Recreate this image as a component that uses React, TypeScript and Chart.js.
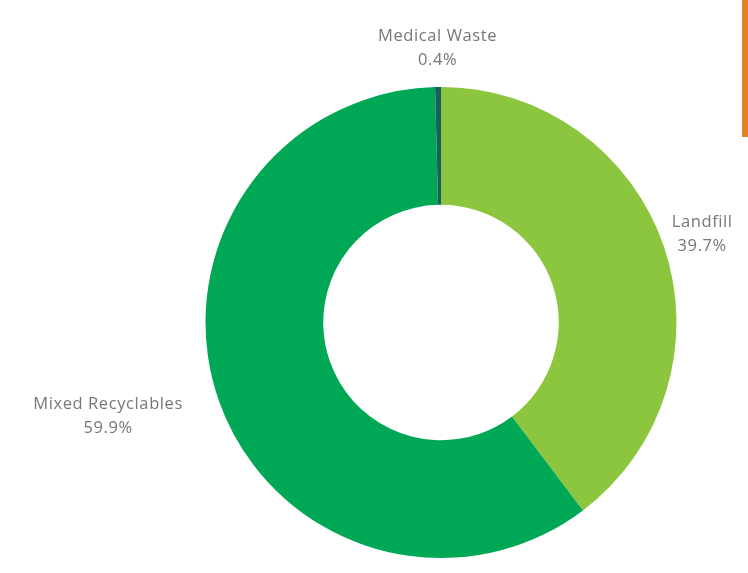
import React, { useEffect, useRef } from "react";
import { Chart, registerables } from "chart.js";

Chart.register(...registerables);

const categories = ["Landfill", "Mixed Recyclables", "Medical Waste"];
const values = [39.7, 59.9, 0.4];
const colors = ["#8cc63e", "#00a855", "#16605e"];

const labelPlugin = {
  id: "outerLabels",
  afterDatasetsDraw(chart: any) {
    const { ctx } = chart;
    const meta = chart.getDatasetMeta(0);
    const ds = chart.data.datasets[0];
    ctx.save();
    ctx.font = "16.5px 'Open Sans'";
    (ctx as any).letterSpacing = "0.6px";
    ctx.fillStyle = "#767676";
    ctx.textBaseline = "middle";
    ctx.textAlign = "center";
    meta.data.forEach((arc: any, i: number) => {
      const { x, y, startAngle, endAngle, outerRadius } = arc.getProps(
        ["x", "y", "startAngle", "endAngle", "outerRadius"],
        true
      );
      const mid = (startAngle + endAngle) / 2;
      const r = outerRadius + 40;
      const ax = x + Math.cos(mid) * r;
      const ay = y + Math.sin(mid) * r;
      const lbl = chart.data.labels[i];
      const pct = ds.data[i].toFixed(1) + "%";
      const w = ctx.measureText(lbl).width;
      // labels on the left side are anchored by their right edge
      const cxText = ax < x - 60 ? ax + 2 - w / 2 : ax;
      const dy = ax < x - 60 ? 2 : ax > x + 60 ? -2 : 0;
      ctx.fillText(lbl, cxText, ay - 11 + dy);
      ctx.fillText(pct, cxText, ay + 13 + dy);
    });
    ctx.restore();
  },
};

export default function App() {
  const ref = useRef<HTMLCanvasElement>(null);
  useEffect(() => {
    document.body.style.margin = "0";
    const chart = new Chart(ref.current!, {
      type: "doughnut",
      data: {
        labels: categories,
        datasets: [
          {
            data: values,
            backgroundColor: colors,
            borderWidth: 0,
          },
        ],
      },
      options: {
        responsive: false,
        animation: false,
        cutout: "50%",
        layout: { padding: { left: 205, right: 71, top: 87, bottom: 15 } },
        plugins: {
          legend: { display: false },
          tooltip: { enabled: false },
        },
      },
      plugins: [labelPlugin],
    });
    return () => chart.destroy();
  }, []);
  return (
    <div style={{ position: "relative", width: 748, height: 573, background: "#fff" }}>
      <canvas ref={ref} width={748} height={573} />
      <div
        style={{
          position: "absolute",
          left: 742,
          top: 0,
          width: 6,
          height: 137,
          background: "#e0832b",
        }}
      />
    </div>
  );
}
